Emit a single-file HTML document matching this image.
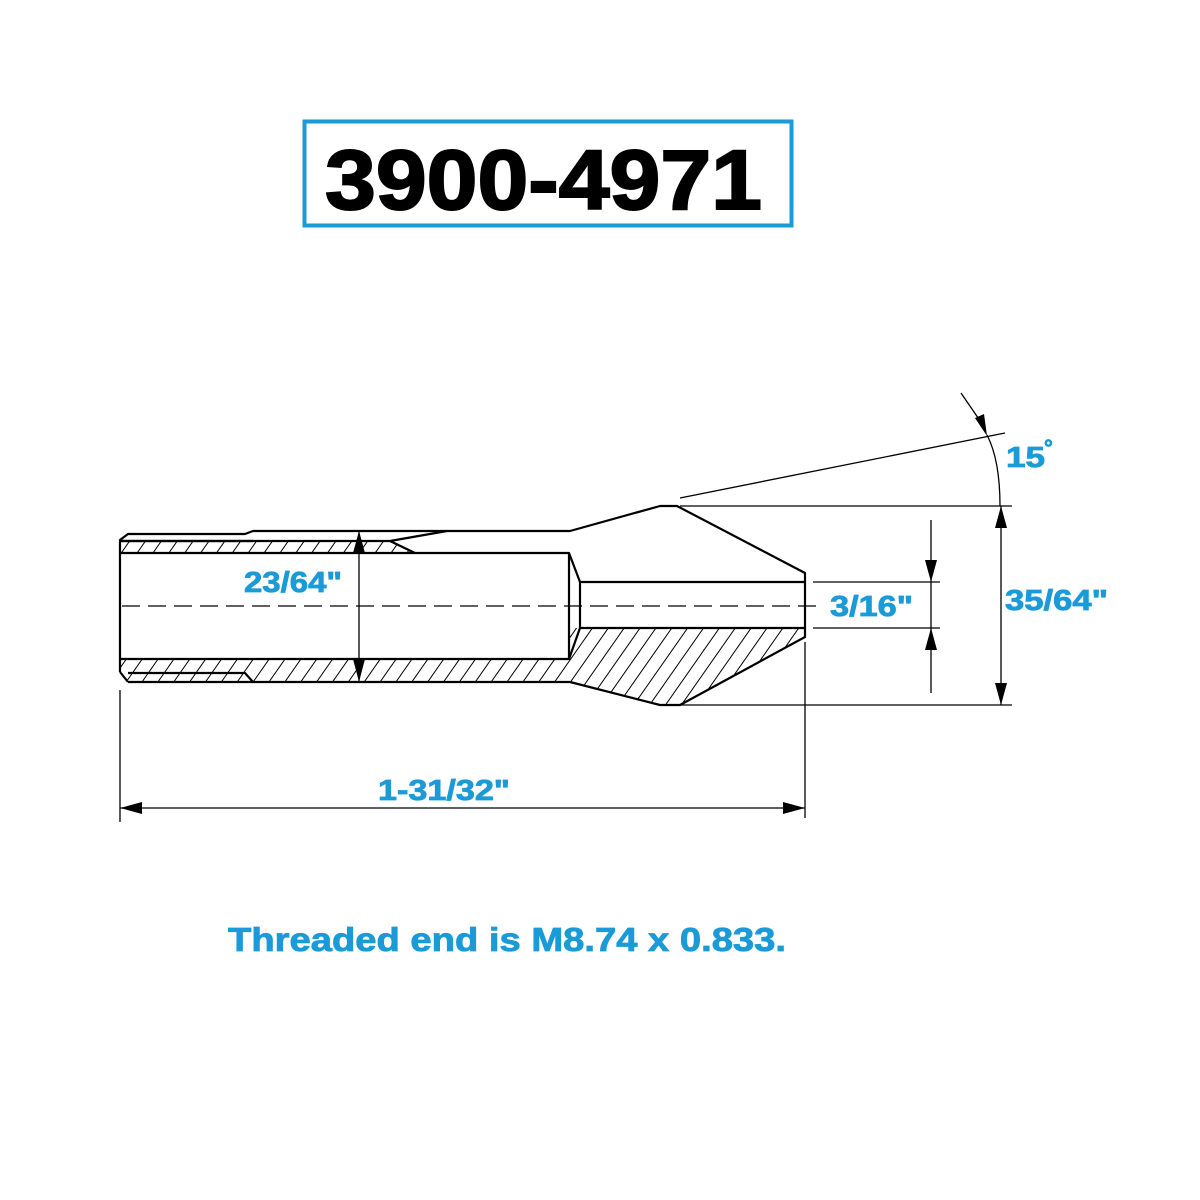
<!DOCTYPE html>
<html><head><style>html,body{margin:0;padding:0;background:#fff}svg{display:block}</style></head>
<body>
<svg width="1200" height="1200" viewBox="0 0 1200 1200" xmlns="http://www.w3.org/2000/svg">
<defs>
<pattern id="h" patternUnits="userSpaceOnUse" width="13" height="13" patternTransform="rotate(35)">
<line x1="0" y1="0" x2="0" y2="13" stroke="#000" stroke-width="2"/>
</pattern>
</defs>
<rect x="0" y="0" width="1200" height="1200" fill="#fff"/>
<!-- title -->
<rect x="304.5" y="121.5" width="487" height="104" fill="none" stroke="#1a9ad6" stroke-width="4"/>
<text x="325" y="209" font-family="Liberation Sans, sans-serif" font-weight="bold" font-size="84" textLength="437" lengthAdjust="spacingAndGlyphs" fill="#000" stroke="#000" stroke-width="2">3900-4971</text>

<!-- hatching -->
<g fill="url(#h)">
<polygon points="120,541 390,541 415,553 120,553"/>
<polygon points="120,659 569,659 569,628 805,628 805,637 680,705 660,705 570,682 128,682 120,672"/>
</g>
<g fill="none" stroke="#000" stroke-width="2.2" stroke-linejoin="round">
<polyline points="120,672 120,540 128,534 245,534 253,531 570,531 660,506 677,506 805,573 805,637 680,705 660,705 570,682 253,682 245,673 128,673"/>
<line x1="120" y1="541" x2="253" y2="541"/>
<line x1="120" y1="672" x2="128" y2="682"/>
<line x1="128" y1="682" x2="253" y2="682"/>
<line x1="390" y1="541" x2="447" y2="531"/>
<line x1="390" y1="541" x2="415" y2="553"/>
<line x1="120" y1="541" x2="390" y2="541"/>
<polyline points="120,553 569,553 580,582 805,582"/>
<polyline points="120,659 569,659 580,628 805,628"/>
<line x1="569" y1="553" x2="569" y2="659"/>
<line x1="580" y1="582" x2="580" y2="628"/>
</g>
<line x1="122" y1="606" x2="820" y2="606" stroke="#000" stroke-width="1.2" stroke-dasharray="18,8"/>

<g stroke="#000" stroke-width="1.3" fill="none">
<line x1="359" y1="531" x2="359" y2="682"/>
<line x1="680" y1="498" x2="1005" y2="433"/>
<line x1="680" y1="506" x2="1012" y2="506"/>
<line x1="680" y1="705" x2="1012" y2="705"/>
<path d="M987,435 Q1000,460 1000,506"/>
<line x1="961" y1="393" x2="985" y2="428"/>
<line x1="1001" y1="506" x2="1001" y2="705"/>
<line x1="813" y1="582" x2="940" y2="582"/>
<line x1="813" y1="628" x2="940" y2="628"/>
<line x1="931" y1="520" x2="931" y2="693"/>
<line x1="120" y1="690" x2="120" y2="822"/>
<line x1="805" y1="642" x2="805" y2="818"/>
<line x1="120" y1="808" x2="805" y2="808"/>
</g>
<g fill="#000">
<polygon points="359,531 353,553 365,553"/>
<polygon points="359,682 353,659 365,659"/>
<polygon points="987,436 975,418 984,414"/>
<polygon points="1001,506 995,528 1007,528"/>
<polygon points="1001,705 995,683 1007,683"/>
<polygon points="931,582 925,560 937,560"/>
<polygon points="931,628 925,650 937,650"/>
<polygon points="120,808 142,802 142,814"/>
<polygon points="805,808 783,802 783,814"/>
</g>
<g font-family="Liberation Sans, sans-serif" font-weight="bold" fill="#1a9ad6" stroke="#1a9ad6" stroke-width="0.8">
<text x="244" y="592" font-size="29" textLength="98" lengthAdjust="spacingAndGlyphs">23/64"</text>
<text x="830" y="616" font-size="29" textLength="83" lengthAdjust="spacingAndGlyphs">3/16"</text>
<text x="1005" y="610" font-size="29" textLength="103" lengthAdjust="spacingAndGlyphs">35/64"</text>
<text x="1006" y="467" font-size="29" textLength="39" lengthAdjust="spacingAndGlyphs">15</text>
<text x="1044" y="455" font-size="22">°</text>
<text x="378" y="800" font-size="29" textLength="132" lengthAdjust="spacingAndGlyphs">1-31/32"</text>
<text x="228" y="951" font-size="33" textLength="558" lengthAdjust="spacingAndGlyphs">Threaded end is M8.74 x 0.833.</text>
</g>
</svg>
</body></html>
